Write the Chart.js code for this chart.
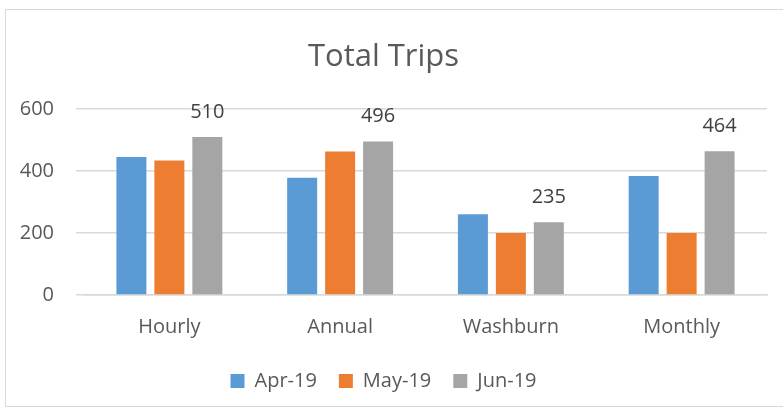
<!DOCTYPE html>
<html>
<head>
<meta charset="utf-8">
<script src="https://cdn.jsdelivr.net/npm/chart.js@4/dist/chart.umd.min.js"></script>
<style>
  body { margin: 0; background: #fff; }
  #wrap { position: relative; width: 783px; height: 410px; }
  #frame { position: absolute; left: 5px; top: 9px; width: 800px; height: 398px; border: 1px solid #d9d9d9; box-sizing: border-box; }
  canvas { position: absolute; left: 0; top: 0; }
</style>
</head>
<body>
<div id="wrap">
  <div id="frame"></div>
  <canvas id="myChart" width="783" height="410"></canvas>
</div>
<script>
// les données
const categories = ["Hourly", "Annual", "Washburn", "Monthly"];
const apr19 = [446, 379, 261, 384];
const may19 = [434, 463, 200, 200];
const jun19 = [510, 496, 235, 464];
const yTicks = [0, 200, 400, 600];

const FONT = "'Open Sans', 'Liberation Sans', sans-serif";
const TXT = "#595959";

// petit plugin pour afficher les valeurs au dessus des barres grises
const valueLabels = {
  id: "valueLabels",
  afterDatasetsDraw(chart) {
    const c = chart.ctx;
    const meta = chart.getDatasetMeta(2);
    c.save();
    c.font = "20px " + FONT;
    c.fillStyle = "#404040";
    c.textAlign = "center";
    c.textBaseline = "middle";
    meta.data.forEach((bar, i) => {
      c.fillText(jun19[i], bar.x, bar.y - 25);
    });
    c.restore();
  },
};

const ctx = document.querySelector("#myChart").getContext("2d");
new Chart(ctx, {
  type: "bar",
  data: {
    labels: categories,
    datasets: [
      { label: "Apr-19", data: apr19, backgroundColor: "#5B9BD5" },
      { label: "May-19", data: may19, backgroundColor: "#ED7D31" },
      { label: "Jun-19", data: jun19, backgroundColor: "#A5A5A5" },
    ],
  },
  options: {
    responsive: false,
    animation: false,
    categoryPercentage: 0.667,
    barPercentage: 0.79,
    layout: { padding: { left: 0, right: 16, top: 9, bottom: 9 } },
    plugins: {
      title: {
        display: true,
        text: "Total Trips",
        color: TXT,
        font: { family: FONT, size: 31, weight: "normal" },
        padding: { top: 30, bottom: 33 },
      },
      legend: {
        position: "bottom",
        labels: {
          color: TXT,
          font: { family: FONT, size: 20 },
          boxWidth: 14,
          boxHeight: 14,
          padding: 22,
        },
      },
      tooltip: { enabled: false },
    },
    scales: {
      x: {
        grid: { display: false },
        border: { color: "#d9d9d9", width: 1.5 },
        ticks: { color: TXT, font: { family: FONT, size: 20 }, padding: 12 },
        afterFit: (s) => { s.height = 54; },
      },
      y: {
        min: 0,
        max: 600,
        afterBuildTicks: (s) => { s.ticks = yTicks.map((v) => ({ value: v })); },
        grid: { color: "#d9d9d9", lineWidth: 1.5 },
        border: { display: false },
        ticks: { color: TXT, font: { family: FONT, size: 20 }, padding: 22 },
        afterFit: (s) => { s.width = 84; },
      },
    },
  },
  plugins: [valueLabels],
});
</script>
</body>
</html>
